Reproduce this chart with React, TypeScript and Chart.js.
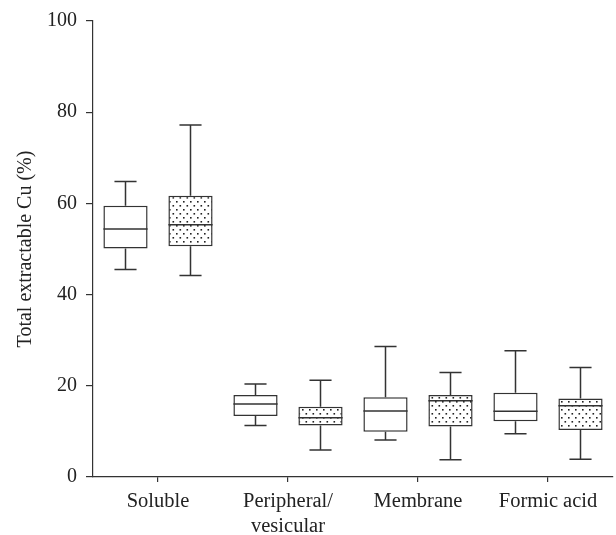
import { useEffect, useRef } from "react";
import { Chart, registerables } from "chart.js";

Chart.register(...registerables);

const categories: (string | string[])[] = ["Soluble", ["Peripheral/", "vesicular"], "Membrane", "Formic acid"];
const yTicks = [0, 20, 40, 60, 80, 100];

// Group A (open boxes)
const minA = [45.5, 11.3, 8.1, 9.5];
const q1A = [50.1, 13.4, 9.9, 12.2];
const medA = [54.4, 16.0, 14.5, 14.4];
const q3A = [59.5, 18.0, 17.5, 18.5];
const maxA = [64.8, 20.4, 28.6, 27.7];

// Group B (dotted boxes)
const minB = [44.2, 5.9, 3.8, 3.9];
const q1B = [50.6, 11.3, 11.1, 10.3];
const medB = [55.3, 13.0, 16.7, 15.6];
const q3B = [61.7, 15.4, 18.0, 17.2];
const maxB = [77.2, 21.2, 22.9, 24.0];

const groups = [
  { min: minA, q1: q1A, med: medA, q3: q3A, max: maxA },
  { min: minB, q1: q1B, med: medB, q3: q3B, max: maxB },
];

const FONT = "'Liberation Serif', 'DejaVu Serif', serif";
const INK = "#333";

const whiskerPlugin = {
  id: "whiskers",
  afterDatasetsDraw(chart: any) {
    const ctx = chart.ctx as CanvasRenderingContext2D;
    const y = chart.scales.y;
    groups.forEach((g, di) => {
      const meta = chart.getDatasetMeta(di);
      meta.data.forEach((bar: any, i: number) => {
        const { x, width } = bar.getProps(["x", "width"], true);
        const pMin = y.getPixelForValue(g.min[i]);
        const pQ1 = y.getPixelForValue(g.q1[i]);
        const pMed = y.getPixelForValue(g.med[i]);
        const pQ3 = y.getPixelForValue(g.q3[i]);
        const pMax = y.getPixelForValue(g.max[i]);
        ctx.save();
        ctx.strokeStyle = INK;
        ctx.lineWidth = 1.5;
        ctx.beginPath();
        ctx.moveTo(x - width / 2, pMed);
        ctx.lineTo(x + width / 2, pMed);
        ctx.moveTo(x, pQ3);
        ctx.lineTo(x, pMax);
        ctx.moveTo(x - width / 4, pMax);
        ctx.lineTo(x + width / 4, pMax);
        ctx.moveTo(x, pQ1);
        ctx.lineTo(x, pMin);
        ctx.moveTo(x - width / 4, pMin);
        ctx.lineTo(x + width / 4, pMin);
        ctx.stroke();
        ctx.restore();
      });
    });
  },
};

export default function App() {
  const ref = useRef<HTMLCanvasElement>(null);
  useEffect(() => {
    const canvas = ref.current!;
    const pc = document.createElement("canvas");
    pc.width = 7;
    pc.height = 8;
    const pctx = pc.getContext("2d")!;
    pctx.fillStyle = "#fff";
    pctx.fillRect(0, 0, 7, 8);
    pctx.fillStyle = "#222";
    pctx.fillRect(1, 1, 1.6, 1.6);
    pctx.fillRect(4.5, 5, 1.6, 1.6);
    const pattern = canvas.getContext("2d")!.createPattern(pc, "repeat")!;

    const chart = new Chart(canvas, {
      type: "bar",
      data: {
        labels: categories,
        datasets: [
          {
            label: "A",
            data: q1A.map((v, i) => [v, q3A[i]]),
            backgroundColor: "#fff",
            borderColor: INK,
            borderWidth: 1.5,
            borderSkipped: false,
          },
          {
            label: "B",
            data: q1B.map((v, i) => [v, q3B[i]]),
            backgroundColor: pattern,
            borderColor: INK,
            borderWidth: 1.5,
            borderSkipped: false,
          },
        ] as any,
      },
      options: {
        responsive: false,
        animation: false,
        devicePixelRatio: 1,
        layout: { padding: { top: 18, right: 3, bottom: 0, left: 0 } },
        datasets: { bar: { categoryPercentage: 1.0, barPercentage: 0.68 } },
        plugins: { legend: { display: false }, tooltip: { enabled: false } },
        scales: {
          x: {
            offset: true,
            grid: { display: true, drawOnChartArea: false, drawTicks: true, tickLength: 5, offset: false, color: INK, lineWidth: 1.2 },
            border: { display: true, color: INK, width: 1.2 },
            ticks: { color: "#222", font: { family: FONT, size: 20.5, lineHeight: 1.22 }, padding: 7, maxRotation: 0, autoSkip: false },
            afterFit: (s: any) => { s.height = 58; },
          },
          y: {
            min: 0,
            max: 100,
            afterBuildTicks: (s: any) => { s.ticks = yTicks.map((v) => ({ value: v })); },
            grid: { display: true, drawOnChartArea: false, drawTicks: true, tickLength: 7, color: INK, lineWidth: 1.2 },
            border: { display: true, color: INK, width: 1.2 },
            ticks: { color: "#222", font: { family: FONT, size: 20 }, padding: 9 },
            title: { display: true, text: "Total extractable Cu (%)", color: "#222", font: { family: FONT, size: 20 }, padding: { top: 14, bottom: 0 } },
            afterFit: (s: any) => { s.width = 93; },
          },
        },
      },
      plugins: [whiskerPlugin],
    });
    return () => chart.destroy();
  }, []);
  return (
    <div style={{ position: "absolute", left: 0, top: 0, width: 616, height: 535, background: "#fff" }}>
      <canvas ref={ref} width={616} height={535} />
    </div>
  );
}
